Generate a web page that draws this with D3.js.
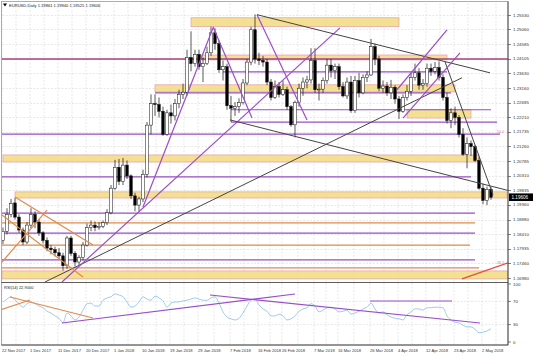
<!DOCTYPE html>
<html><head><meta charset="utf-8">
<script src="https://cdn.jsdelivr.net/npm/d3@7"></script>
<style>body{margin:0;background:#fff}svg{display:block}text{font-family:"Liberation Sans",Arial,sans-serif}</style>
</head><body><script>
const symbol = "EURUSD,Daily";
const open  = [1.1820,1.1850,1.1905,1.1942,1.1896,1.1854,1.1815,1.1870,1.1905,1.1880,1.1845,1.1820,1.1795,1.1790,1.1780,1.1770,1.1738,1.1828,1.1778,1.1750,1.1765,1.1805,1.1862,1.1870,1.1862,1.1866,1.1878,1.1910,1.1990,1.2058,1.2012,1.2065,1.2030,1.1965,1.1935,1.1955,1.2035,1.2195,1.2265,1.2262,1.2240,1.2165,1.2235,1.2225,1.2265,1.2295,1.2302,1.2415,1.2395,1.2425,1.2385,1.2395,1.2430,1.2495,1.2460,1.2375,1.2385,1.2258,1.2250,1.2255,1.2268,1.2332,1.2400,1.2505,1.2410,1.2405,1.2400,1.2335,1.2285,1.2320,1.2295,1.2310,1.2255,1.2196,1.2268,1.2315,1.2335,1.2342,1.2405,1.2310,1.2312,1.2340,1.2390,1.2372,1.2385,1.2320,1.2290,1.2335,1.2242,1.2340,1.2300,1.2350,1.2358,1.2450,1.2410,1.2315,1.2322,1.2300,1.2318,1.2280,1.2240,1.2285,1.2305,1.2350,1.2365,1.2325,1.2330,1.2380,1.2370,1.2382,1.2350,1.2285,1.2210,1.2235,1.2220,1.2165,1.2100,1.2135,1.2125,1.2080,1.1990,1.1950,1.19861];
const high  = [1.1862,1.1925,1.1955,1.1958,1.1905,1.1862,1.1880,1.1925,1.1915,1.1890,1.1850,1.1830,1.1805,1.1800,1.1795,1.1780,1.1835,1.1835,1.1785,1.1772,1.1815,1.1875,1.1885,1.1882,1.1880,1.1885,1.1922,1.2000,1.2082,1.2085,1.2088,1.2080,1.2035,1.1975,1.1962,1.2050,1.2205,1.2295,1.2295,1.2285,1.2255,1.2245,1.2262,1.2280,1.2310,1.2330,1.2440,1.2500,1.2440,1.2440,1.2415,1.2450,1.2515,1.2510,1.2470,1.2405,1.2395,1.2290,1.2270,1.2282,1.2345,1.2410,1.2515,1.2555,1.2430,1.2420,1.2410,1.2345,1.2340,1.2335,1.2340,1.2320,1.2260,1.2275,1.2330,1.2350,1.2355,1.2445,1.2445,1.2330,1.2350,1.2410,1.2410,1.2395,1.2395,1.2335,1.2350,1.2355,1.2355,1.2365,1.2360,1.2370,1.2475,1.2460,1.2420,1.2340,1.2335,1.2342,1.2325,1.2290,1.2295,1.2325,1.2365,1.2395,1.2380,1.2345,1.2395,1.2395,1.2400,1.2402,1.2360,1.2300,1.2250,1.2255,1.2228,1.2185,1.2155,1.2145,1.2130,1.2090,1.2005,1.1995,1.19940];
const low   = [1.1808,1.1840,1.1895,1.1888,1.1845,1.1805,1.1808,1.1860,1.1860,1.1835,1.1810,1.1785,1.1775,1.1768,1.1760,1.1722,1.1728,1.1770,1.1735,1.1740,1.1755,1.1800,1.1850,1.1850,1.1855,1.1860,1.1870,1.1905,1.1985,1.2000,1.2000,1.2020,1.1955,1.1915,1.1915,1.1945,1.2025,1.2165,1.2225,1.2220,1.2160,1.2160,1.2200,1.2210,1.2250,1.2280,1.2290,1.2370,1.2385,1.2375,1.2335,1.2390,1.2420,1.2440,1.2365,1.2340,1.2245,1.2205,1.2225,1.2235,1.2262,1.2325,1.2390,1.2395,1.2390,1.2385,1.2325,1.2275,1.2280,1.2285,1.2290,1.2245,1.2190,1.2155,1.2255,1.2290,1.2315,1.2330,1.2300,1.2275,1.2300,1.2330,1.2350,1.2345,1.2310,1.2285,1.2280,1.2235,1.2235,1.2285,1.2295,1.2335,1.2355,1.2390,1.2305,1.2300,1.2290,1.2280,1.2265,1.2215,1.2235,1.2275,1.2290,1.2340,1.2310,1.2310,1.2320,1.2355,1.2360,1.2340,1.2275,1.2200,1.2185,1.2195,1.2155,1.2095,1.2055,1.2095,1.2075,1.1985,1.1938,1.1935,1.19525];
const close = [1.1850,1.1905,1.1940,1.1896,1.1854,1.1815,1.1870,1.1905,1.1880,1.1845,1.1820,1.1795,1.1790,1.1780,1.1770,1.1738,1.1828,1.1778,1.1750,1.1765,1.1805,1.1862,1.1870,1.1862,1.1866,1.1878,1.1910,1.1990,1.2058,1.2012,1.2065,1.2030,1.1965,1.1935,1.1955,1.2035,1.2195,1.2265,1.2262,1.2240,1.2165,1.2235,1.2225,1.2265,1.2295,1.2302,1.2415,1.2395,1.2425,1.2385,1.2395,1.2430,1.2495,1.2460,1.2375,1.2385,1.2258,1.2250,1.2255,1.2268,1.2332,1.2400,1.2505,1.2410,1.2405,1.2400,1.2335,1.2285,1.2320,1.2295,1.2310,1.2255,1.2196,1.2268,1.2315,1.2335,1.2342,1.2405,1.2310,1.2312,1.2340,1.2390,1.2372,1.2385,1.2320,1.2290,1.2335,1.2242,1.2340,1.2300,1.2350,1.2358,1.2450,1.2410,1.2315,1.2322,1.2300,1.2318,1.2280,1.2240,1.2285,1.2305,1.2350,1.2365,1.2325,1.2330,1.2380,1.2370,1.2382,1.2350,1.2285,1.2210,1.2235,1.2220,1.2165,1.2100,1.2135,1.2125,1.2080,1.1990,1.1950,1.1986,1.19606];
const rsi = [69,74,78,72,66,60,66,69,66,62,59,53,50,45,41,33,50,45,38,43,55,66,67,62,62,72,76,78,83,81,78,69,60,62,69,78,74,72,79,76,71,60,67,69,69,71,72,74,76,74,72,72,76,78,67,52,43,40,38,41,50,62,72,74,64,57,53,45,45,48,45,38,40,45,53,57,59,66,62,52,55,59,60,57,52,53,55,48,50,53,57,60,67,57,50,52,47,43,41,40,38,47,52,57,57,55,59,59,60,60,59,45,38,34,33,29,26,26,22,16,17,19,22.9];
const dateLabels = ["22 Nov 2017","1 Dec 2017","11 Dec 2017","20 Dec 2017","1 Jan 2018","10 Jan 2018","19 Jan 2018","29 Jan 2018","7 Feb 2018","16 Feb 2018","26 Feb 2018","7 Mar 2018","16 Mar 2018","26 Mar 2018","4 Apr 2018","12 Apr 2018","23 Apr 2018","2 May 2018"];
const dateBars = [0,7,14,21,28,35,42,49,57,64,70,78,84,92,99,106,113,120];
const priceTicks = [1.16980,1.17460,1.17935,1.18410,1.18880,1.19360,1.19835,1.20310,1.20785,1.21260,1.21735,1.22210,1.22685,1.23160,1.23630,1.24105,1.24585,1.25060,1.25530];
const rsiTicks = [100,70,30,0];
// zones: [top price, bottom price, from bar, to bar]
const zones = [[1.2544,1.2515,47,99],[1.2423,1.2407,48,111],[1.2326,1.2303,38,113],[1.2245,1.2218,101,117],[1.2098,1.2075,0,119],[1.1978,1.1958,3,126],[1.1721,1.1695,-0.25,126.25]];
// levels: [price, from bar, to bar, kind]
const levels = [[1.2410,-0.25,126.25,"m"],[1.2368,55,111,"p"],[1.2300,38,112,"p"],[1.2245,57,122,"p"],[1.2205,57,123.5,"p"],[1.2166,-0.25,124.25,"p"],[1.2027,-0.25,117,"p"],[1.1909,-0.25,118,"p"],[1.1877,-0.25,118,"o"],[1.1844,-0.25,118,"p"],[1.1805,-0.25,116.75,"o"],[1.1757,-0.25,118,"p"],[1.1731,-0.25,119,"o"]];
// trendlines: [bar1, price1, bar2, price2, kind]
const trends = [[10.5,1.1685,114.75,1.2349,"d"],[14.75,1.1685,84.25,1.2511,"p"],[35,1.1929,52.5,1.2511,"p"],[52.5,1.2515,62.25,1.2218,"p"],[63.5,1.2554,76,1.2212,"p"],[63.5,1.2554,121.75,1.2365,"d"],[56.75,1.2212,126.75,1.1981,"d"],[110.5,1.2401,122.5,1.1968,"d"],[98.5,1.2310,111,1.2505,"p"],[100,1.2218,114.25,1.2430,"p"],[3,1.1961,22.5,1.1805,"o"],[-0.25,1.1903,20,1.1701,"o"],[-0.25,1.1750,11,1.1919,"o"],[114.75,1.1695,126.25,1.1747,"r"]];
const rsiTrends = [[14.75,32.8,73,82.8,"p"],[51.75,81,119.25,32.8,"p"],[91.75,70.7,112.25,70.7,"p"],[1.75,77.6,22.5,41.4,"o"],[-0.75,55.2,6.75,72.4,"o"]];
const fibLabels = [[1.2166,"50.0"],[1.1740,"38.2"]];

const W=536,H=357, L=2, R=508, PT=3, PB=282, RT=283, RB=345;
const color = {p:"#9a4ec6", m:"#a8407c", d:"#454545", o:"#e08a4a", r:"#e0503a"};
const svg = d3.select("body").append("svg").attr("width",W).attr("height",H);
svg.append("rect").attr("width",W).attr("height",H).attr("fill","#fff");
const x = d3.scaleLinear().domain([0,122]).range([3,491]);
const y = d3.scaleLinear().domain([1.1698,1.2553]).range([278,15]);
const yr = d3.scaleLinear().domain([0,100]).range([342,284]);
const defs = svg.append("defs");
defs.append("clipPath").attr("id","cp").append("rect").attr("x",L).attr("y",PT).attr("width",R-L).attr("height",PB-PT);
defs.append("clipPath").attr("id","cr").append("rect").attr("x",L).attr("y",RT).attr("width",R-L).attr("height",RB-RT);

// grid
const grid = svg.append("g").attr("stroke","#d9d9d9").attr("stroke-width",0.6).attr("stroke-dasharray","2,1.5");
const vg = [];
dateBars.forEach((b,i)=>{vg.push(b); if(i<dateBars.length-1) vg.push((b+dateBars[i+1])/2); else vg.push(b+3.5);});
grid.selectAll(".v").data(vg).join("line").attr("x1",d=>x(d)-1).attr("x2",d=>x(d)-1).attr("y1",PT).attr("y2",RB);
grid.selectAll(".h").data(priceTicks).join("line").attr("x1",L).attr("x2",R).attr("y1",d=>Math.round(y(d))+0.5).attr("y2",d=>Math.round(y(d))+0.5);
grid.selectAll(".hr").data(rsiTicks.slice(1,3)).join("line").attr("x1",L).attr("x2",R).attr("y1",d=>yr(d)).attr("y2",d=>yr(d));

const pg = svg.append("g").attr("clip-path","url(#cp)");
// zones
pg.selectAll(".z").data(zones).join("rect")
  .attr("x",d=>x(d[2])).attr("width",d=>x(d[3])-x(d[2]))
  .attr("y",d=>y(d[0])).attr("height",d=>y(d[1])-y(d[0]))
  .attr("fill","#f1da7e").attr("fill-opacity",0.85).attr("stroke","#e79ab4").attr("stroke-width",0.7);
// levels
pg.selectAll(".l").data(levels).join("line")
  .attr("x1",d=>x(d[1])).attr("x2",d=>x(d[2])).attr("y1",d=>y(d[0])).attr("y2",d=>y(d[0]))
  .attr("stroke",d=>color[d[3]]).attr("stroke-width",d=>d[3]==="m"?1.6:1.2);
// candles
const idx = d3.range(close.length);
pg.selectAll(".w").data(idx).join("line")
  .attr("x1",i=>x(i)).attr("x2",i=>x(i)).attr("y1",i=>y(high[i])).attr("y2",i=>y(low[i]))
  .attr("stroke","#111").attr("stroke-width",0.7);
pg.selectAll(".b").data(idx).join("rect")
  .attr("x",i=>x(i)-1.3).attr("width",2.6)
  .attr("y",i=>y(Math.max(open[i],close[i])))
  .attr("height",i=>Math.max(0.8,Math.abs(y(open[i])-y(close[i]))))
  .attr("fill",i=>close[i]>=open[i]?"#fff":"#000").attr("stroke","#111").attr("stroke-width",0.5);
// trendlines
pg.selectAll(".t").data(trends).join("line")
  .attr("x1",d=>x(d[0])).attr("y1",d=>y(d[1])).attr("x2",d=>x(d[2])).attr("y2",d=>y(d[3]))
  .attr("stroke",d=>color[d[4]]).attr("stroke-width",d=>d[4]==="d"?1:1.2);
// fib labels
svg.selectAll(".fib").data(fibLabels).join("text").attr("x",R-4).attr("y",d=>y(d[0])-1)
  .attr("text-anchor","end").attr("font-size",3.6).attr("fill","#e080a0").text(d=>d[1]);

// RSI pane
const rg = svg.append("g").attr("clip-path","url(#cr)");
rg.append("path").datum(rsi).attr("fill","none").attr("stroke","#8cbfe6").attr("stroke-width",0.8)
  .attr("d",d3.line().x((d,i)=>x(i)).y(d=>yr(d)).curve(d3.curveMonotoneX));
rg.selectAll(".rt").data(rsiTrends).join("line")
  .attr("x1",d=>x(d[0])).attr("y1",d=>yr(d[1])).attr("x2",d=>x(d[2])).attr("y2",d=>yr(d[3]))
  .attr("stroke",d=>color[d[4]]).attr("stroke-width",1.2);

// frame
const fr = svg.append("g").attr("fill","none").attr("stroke","#555").attr("stroke-width",0.8);
fr.append("rect").attr("x",1.5).attr("y",1.5).attr("width",R-1.5).attr("height",RB-1.5).attr("stroke","#999");
fr.append("line").attr("x1",R).attr("x2",R).attr("y1",1.5).attr("y2",RB).attr("stroke","#333");
fr.append("line").attr("x1",1.5).attr("x2",R).attr("y1",PB+0.5).attr("y2",PB+0.5).attr("stroke","#333");
fr.append("line").attr("x1",1.5).attr("x2",R).attr("y1",RB).attr("y2",RB).attr("stroke","#333");

// price axis
const ax = svg.append("g").attr("font-size",4.4).attr("fill","#333");
ax.selectAll(".tk").data(priceTicks).join("line").attr("x1",R).attr("x2",R+3)
  .attr("y1",d=>Math.round(y(d))+0.5).attr("y2",d=>Math.round(y(d))+0.5).attr("stroke","#333").attr("stroke-width",0.6);
ax.selectAll(".pl").data(priceTicks).join("text").attr("x",R+5).attr("y",d=>y(d)+1.6).text(d=>d.toFixed(5));
ax.selectAll(".rl").data(rsiTicks).join("text").attr("x",R+5).attr("y",d=>yr(d)+1.6).text(d=>d);
ax.selectAll(".rtk").data(rsiTicks).join("line").attr("x1",R).attr("x2",R+3).attr("y1",d=>yr(d)).attr("y2",d=>yr(d)).attr("stroke","#333").attr("stroke-width",0.6);
const last = close[close.length-1];
svg.append("rect").attr("x",R+1).attr("y",y(last)-3.8).attr("width",24).attr("height",7.6).attr("fill","#000");
svg.append("text").attr("x",R+3.5).attr("y",y(last)+1.6).attr("font-size",4.6).attr("fill","#fff").text(last.toFixed(5));

// date axis
svg.append("g").attr("font-size",4.1).attr("fill","#333").selectAll("text").data(dateLabels).join("text")
  .attr("x",(d,i)=>x(dateBars[i])-1).attr("y",352).text(d=>d);

// header
svg.append("path").attr("d","M3,3.5 L7,3.5 L5,6.5 Z").attr("fill","#000");
svg.append("text").attr("x",9).attr("y",7).attr("font-size",4.1).attr("fill","#222")
  .text(`${symbol} ${open[open.length-1].toFixed(5)} ${high[high.length-1].toFixed(5)} ${low[low.length-1].toFixed(5)} ${last.toFixed(5)}`);
svg.append("text").attr("x",4).attr("y",289).attr("font-size",4).attr("fill","#222").text(`RSI(14) ${rsi[rsi.length-1].toFixed(4)}`);
</script></body></html>
